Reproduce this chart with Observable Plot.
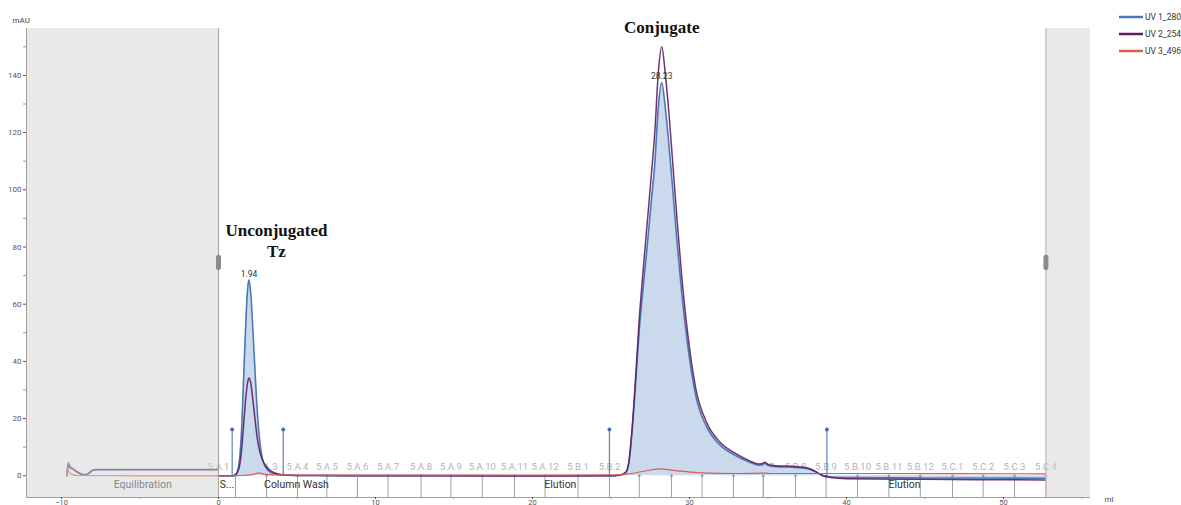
<!DOCTYPE html>
<html><head><meta charset="utf-8">
<script src="https://cdn.jsdelivr.net/npm/d3@7"></script>
<script src="https://cdn.jsdelivr.net/npm/@observablehq/plot@0.6"></script>
<style>html,body{margin:0;padding:0;overflow:hidden;background:#fff}</style>
</head><body><div id="chart"></div>
<script>
// ---- data ----
const xDomain = [-12.23, 55.54];
const yDomain = [-7.59, 156.4];
const xTicks = [-10, 0, 10, 20, 30, 40, 50];
const xMinorTicks = [-5, 5, 15, 25, 35, 45, 55];
const yTicks = [0, 20, 40, 60, 80, 100, 120, 140];
const yMinorTicks = [10, 30, 50, 70, 90, 110, 130, 150];

const seriesNames = ["UV 1_280", "UV 2_254", "UV 3_496"];
const seriesColors = ["#4a78b5", "#5e1d63", "#dc5a4f"];

// equilibration segment (ml, mAU)
const uv280Equil = [[-9.66,0],[-9.58,4.5],[-9.45,3.2],[-9.3,2.6],[-9.0,1.4],[-8.7,0.5],[-8.45,0.35],[-8.2,1.2],[-8.0,2.0],[-7.8,2.2],[-4,2.2],[-0.02,2.2]];
const uv254Equil = [[-9.66,0],[-9.58,3.8],[-9.45,2.8],[-9.3,2.4],[-9.0,1.3],[-8.7,0.5],[-8.45,0.35],[-8.2,1.1],[-8.0,1.9],[-7.8,2.1],[-4,2.1],[-0.02,2.1]];
const uv496Equil = [[-9.66,0],[-9.62,2.6],[-9.5,1.2],[-9.3,0.4],[-9.0,0.1],[-4,0],[-0.02,0]];

// run segment (ml, mAU)
const uv280Run = [[0,0],[0.9,0],[1.1,0.5],[1.3,4],[1.45,14],[1.6,34],[1.75,55],[1.85,65],[1.94,68.5],[2.05,64],[2.2,50],[2.35,34],[2.5,20],[2.65,11],[2.8,6],[3.0,3],[3.3,1.3],[3.7,0.5],[4.2,0.2],[6,0.1],[12,0.05],[20,0],[24.9,0],[25.6,0.3],[25.95,1.2],[26.15,5],[26.35,16],[26.55,31],[26.8,51],[27.05,66],[27.3,80],[27.55,95],[27.8,110],[28.0,128],[28.23,137.5],[28.45,129],[28.7,115],[28.95,99],[29.2,82],[29.5,64],[29.9,45],[30.4,28],[31.1,17],[31.9,11],[32.9,7.2],[33.8,4.8],[34.4,3.7],[34.6,3.8],[34.8,4.3],[35.0,3.6],[35.5,3.2],[36.5,3.0],[37.2,2.7],[37.7,2.2],[38.1,1.2],[38.5,0.1],[39.0,-0.4],[40,-0.65],[45,-0.75],[52.7,-0.85]];
const uv254Run = [[0,0],[0.9,0],[1.1,0.4],[1.3,2.5],[1.45,8],[1.6,18],[1.75,28],[1.85,32.5],[1.94,34.2],[2.05,32.5],[2.2,26],[2.35,18.5],[2.5,12],[2.65,8],[2.8,5.5],[3.0,3.5],[3.3,1.8],[3.7,0.8],[4.2,0.3],[6,0.1],[12,0],[20,-0.05],[24.9,0],[25.6,0.3],[25.95,1.3],[26.15,5.5],[26.35,17],[26.55,33],[26.8,55],[27.05,72],[27.3,88],[27.55,104],[27.8,121],[28.0,140],[28.23,150],[28.45,141],[28.7,126],[28.95,108],[29.2,90],[29.5,70],[29.9,49],[30.4,30.5],[31.1,18.5],[31.9,12],[32.9,7.9],[33.8,5.3],[34.4,4.1],[34.6,4.2],[34.8,4.7],[35.0,4.0],[35.5,3.5],[36.5,3.3],[37.2,3.0],[37.7,2.4],[38.1,1.3],[38.5,0.0],[39.0,-0.6],[40,-1.0],[45,-1.25],[52.7,-1.45]];
const uv496Run = [[0,0],[1.5,0.1],[2.2,0.5],[2.55,1.0],[2.9,0.6],[3.5,0.3],[6,0.2],[20,0.25],[25,0.3],[26,0.6],[27,1.5],[27.7,2.2],[28.1,2.4],[28.7,2.1],[29.5,1.6],[30.7,1.0],[33,0.8],[34.8,0.9],[35.2,0.8],[40,0.8],[52.7,0.7]];

// fractions (start ml)
const fractionNames = ["5.A.1","5.A.2","5.A.3","5.A.4","5.A.5","5.A.6","5.A.7","5.A.8","5.A.9","5.A.10","5.A.11","5.A.12","5.B.1","5.B.2","5.B.3","5.B.4","5.B.5","5.B.6","5.B.7","5.B.8","5.B.9","5.B.10","5.B.11","5.B.12","5.C.1","5.C.2","5.C.3","5.C.4"];
const fractionStarts = [0,1.08,3.06,5.03,6.9,8.85,10.8,12.9,14.8,16.8,18.85,20.8,22.9,24.9,26.8,28.85,30.8,32.8,34.7,36.75,38.7,40.7,42.7,44.7,46.75,48.7,50.7,52.7];
const hiddenFractionLabels = ["5.A.2"]; // overlapped in the original

// phases
const phaseNames = ["Equilibration", "S...", "Column Wash", "Elution", "Elution"];
const phaseStarts = [-9.65, 0, 1.08, 8.85, 34.7];
const phaseEnds = [0, 1.08, 8.85, 34.7, 52.7];

// run window (shaded outside)
const runStart = 0, runEnd = 52.7;

// event markers (ml) and their height
const eventMarks = [0.87, 4.12, 24.9, 38.75];
const eventHeight = 16.2;

// peaks
const peakX = [1.94, 28.23];
const peakY = [68.5, 137.5];
const peakLabels = ["1.94", "28.23"];
const peakNames = ["Unconjugated\nTz", "Conjugate"];

const handleRange = [72.7, 76.2];

// ---- build tables ----
const rows = (series, seg, pts) => pts.map(([x, y]) => ({series, seg, x, y}));
const lines = [
  ...rows(seriesNames[0], "eq", uv280Equil), ...rows(seriesNames[0], "run", uv280Run),
  ...rows(seriesNames[1], "eq", uv254Equil), ...rows(seriesNames[1], "run", uv254Run),
  ...rows(seriesNames[2], "eq", uv496Equil), ...rows(seriesNames[2], "run", uv496Run)
];
const fractions = fractionNames.map((name, i) => ({name, x: fractionStarts[i]}));
const phases = phaseNames.map((name, i) => ({name, x1: phaseStarts[i], x2: phaseEnds[i], x: (phaseStarts[i] + phaseEnds[i]) / 2}));
const peaks = peakX.map((x, i) => ({x, y: peakY[i], label: peakLabels[i], name: peakNames[i]}));
const shaded = [{x1: xDomain[0], x2: runStart}, {x1: runEnd, x2: xDomain[1]}];

const font = "Roboto, 'Open Sans', sans-serif";
const serif = "'Liberation Serif', 'Times New Roman', serif";
const W = 1181, H = 512;

const plot = Plot.plot({
  width: W, height: H,
  marginLeft: 26, marginRight: 91, marginTop: 28, marginBottom: 15,
  style: {fontFamily: font, background: "#fff", overflow: "visible"},
  x: {domain: xDomain, label: null},
  y: {domain: yDomain, label: null},
  color: {domain: seriesNames, range: seriesColors},
  marks: [
    Plot.ruleX(fractions, {x: "x", y1: yDomain[0], y2: 0, stroke: "#a0a0a0", strokeWidth: 1}),
    Plot.text(fractions.filter(d => !hiddenFractionLabels.includes(d.name)), {x: "x", y: 0, text: "name", dy: -9, fill: "#b3b3b3", fontSize: 9.5}),
    Plot.areaY(lines.filter(d => d.series === seriesNames[0] && d.seg === "run"), {x: "x", y: "y", fill: "#cbd9ec", curve: "monotone-x"}),
    Plot.ruleX(eventMarks, {y1: 0, y2: eventHeight, stroke: "#5a84bb", strokeWidth: 1.2}),
    Plot.dot(eventMarks, {x: d => d, y: eventHeight, r: 2, fill: "#4a6fa5"}),
    Plot.dot(fractions, {x: "x", y: 0, r: 1.3, fill: "#8896aa"}),
    Plot.line(lines.filter(d => d.series === seriesNames[0]), {x: "x", y: "y", z: "seg", stroke: seriesColors[0], strokeWidth: 1.6, curve: "monotone-x"}),
    Plot.line(lines.filter(d => d.series === seriesNames[1]), {x: "x", y: "y", z: "seg", stroke: seriesColors[1], strokeWidth: 1.5, curve: "monotone-x", strokeOpacity: 0.9}),
    Plot.line(lines.filter(d => d.series === seriesNames[2]), {x: "x", y: "y", z: "seg", stroke: seriesColors[2], strokeWidth: 1.2, curve: "monotone-x"}),
    Plot.ruleX(phases.slice(1), {x: "x1", y1: yDomain[0], y2: 0, stroke: "#a0a0a0"}),
    Plot.text(phases, {x: "x", text: "name", frameAnchor: "bottom", dy: -10, fontSize: 10.5, fill: "#333"}),
    // translucent shading outside the run window
    Plot.rect(shaded, {x1: "x1", x2: "x2", y1: yDomain[0], y2: yDomain[1], fill: "#d4d4d4", fillOpacity: 0.5}),
    Plot.ruleX([runStart], {y1: yDomain[0], y2: yDomain[1], stroke: "#a8a8a8", strokeWidth: 1.2}),
    Plot.ruleX([runEnd], {y1: yDomain[0], y2: yDomain[1], stroke: "#c7b6cc", strokeWidth: 1.2}),
    Plot.ruleX([runStart, runEnd], {y1: handleRange[0], y2: handleRange[1], stroke: "#8c8c8c", strokeWidth: 5, strokeLinecap: "round"}),
    Plot.text(peaks, {x: "x", y: "y", text: "label", dy: -6, fontSize: 8.5, fill: "#333"}),
    Plot.text(peaks.filter(d => d.x < 10), {x: "x", y: "y", text: "name", dx: 27.5, dy: -40, lineHeight: 1.25, fontSize: 17, fontWeight: "bold", fontFamily: serif, fill: "#111"}),
    Plot.text(peaks.filter(d => d.x >= 10), {x: "x", y: "y", text: "name", dy: -55, fontSize: 17, fontWeight: "bold", fontFamily: serif, fill: "#111"}),
    Plot.ruleX([xDomain[0]], {stroke: "#a0a0a0"}),
    Plot.ruleY([yDomain[0]], {stroke: "#a0a0a0"}),
    Plot.axisY({ticks: yTicks, tickSize: 3, tickPadding: 2, fontSize: 8, color: "#555", label: null}),
    Plot.axisY({ticks: yMinorTicks, tickSize: 3, tickFormat: () => "", color: "#999", label: null}),
    Plot.axisX({ticks: xTicks, tickSize: 2, tickPadding: 0, fontSize: 7.5, color: "#555", label: null}),
    Plot.axisX({ticks: xMinorTicks, tickSize: 2, tickFormat: () => "", color: "#999", label: null}),
    Plot.text(["mAU"], {frameAnchor: "top-left", dx: -14, dy: -11, textAnchor: "start", fontSize: 8, fill: "#444"}),
    Plot.text(["ml"], {frameAnchor: "bottom-right", dx: 14, dy: 4, textAnchor: "start", fontSize: 8, fill: "#444"})
  ]
});
document.getElementById("chart").appendChild(plot);

// legend
const svg = d3.select(plot);
const lg = svg.append("g").attr("font-family", font).attr("font-size", 8.5).attr("text-anchor", "start");
seriesNames.forEach((name, i) => {
  const y = 17 + i * 17;
  lg.append("line").attr("x1", 1119).attr("x2", 1143).attr("y1", y).attr("y2", y)
    .attr("stroke", seriesColors[i]).attr("stroke-width", 2.5);
  lg.append("text").attr("x", 1145).attr("y", y).attr("dy", "0.35em").attr("fill", "#333").text(name);
});
</script>
</body></html>
